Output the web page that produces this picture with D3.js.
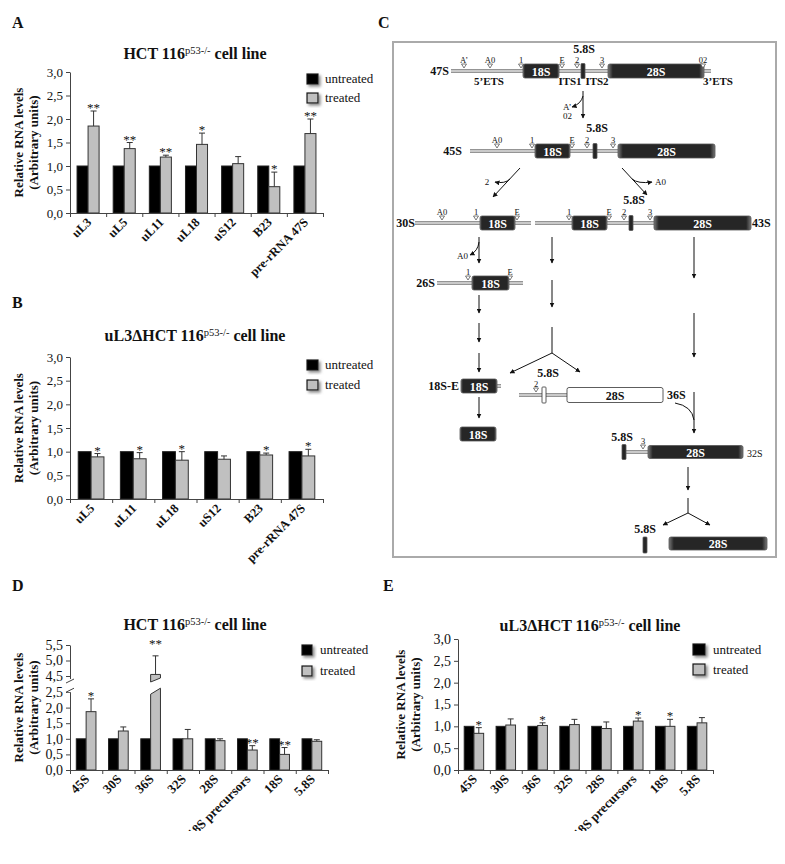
<!DOCTYPE html>
<html>
<head>
<meta charset="utf-8">
<script src="https://cdn.jsdelivr.net/npm/d3@7"></script>
<style>
  body { margin: 0; background: #fff; }
  text { font-family: "Liberation Serif", "Times New Roman", serif; fill: #111; }
</style>
</head>
<body>
<script>
// ---- data ----
var catsA = ["uL3", "uL5", "uL11", "uL18", "uS12", "B23", "pre-rRNA 47S"];
var untrA = [1, 1, 1, 1, 1, 1, 1];
var treatA = [1.85, 1.37, 1.19, 1.46, 1.05, 0.56, 1.69];
var errA = [0.32, 0.13, 0.04, 0.24, 0.15, 0.31, 0.31];
var sigA = ["**", "**", "**", "*", "", "*", "**"];

var catsB = ["uL5", "uL11", "uL18", "uS12", "B23", "pre-rRNA 47S"];
var untrB = [1, 1, 1, 1, 1, 1];
var treatB = [0.89, 0.85, 0.82, 0.84, 0.93, 0.91];
var errB = [0.07, 0.13, 0.18, 0.07, 0.04, 0.14];
var sigB = ["*", "*", "*", "", "*", "*"];

var catsDE = ["45S", "30S", "36S", "32S", "28S", "18S precursors", "18S", "5.8S"];
var untrD = [1, 1, 1, 1, 1, 1, 1, 1];
var treatD = [1.87, 1.25, 4.55, 1.0, 0.94, 0.64, 0.5, 0.92];
var errD = [0.41, 0.13, 0.6, 0.3, 0.06, 0.14, 0.22, 0.05];
var sigD = ["*", "", "**", "", "", "**", "**", ""];

var untrE = [1, 1, 1, 1, 1, 1, 1, 1];
var treatE = [0.84, 1.03, 1.02, 1.04, 0.95, 1.12, 1.0, 1.08];
var errE = [0.13, 0.14, 0.06, 0.12, 0.15, 0.07, 0.16, 0.12];
var sigE = ["*", "", "*", "", "", "*", "*", ""];

var ticks3 = [0, 0.5, 1, 1.5, 2, 2.5, 3];
var ticksD = [0, 0.5, 1, 1.5, 2, 2.5, 4.5, 5, 5.5];
var seriesNames = ["untreated", "treated"];

var fmt = function(v) { return d3.format(".1f")(v).replace(".", ","); };

var svg = d3.select("body").append("svg")
  .attr("width", 785)
  .attr("height", 864);

var defs = svg.append("defs");
var sg = defs.append("linearGradient").attr("id", "strand")
  .attr("x1", 0).attr("y1", 0).attr("x2", 0).attr("y2", 1);
[["0%", "#7a7a7a"], ["50%", "#e4e4e4"], ["100%", "#7a7a7a"]].forEach(function(s) {
  sg.append("stop").attr("offset", s[0]).attr("stop-color", s[1]);
});
var bg = defs.append("linearGradient").attr("id", "block")
  .attr("x1", 0).attr("y1", 0).attr("x2", 1).attr("y2", 0);
[["0%", "#777"], ["5%", "#262626"], ["95%", "#262626"], ["100%", "#777"]].forEach(function(s) {
  bg.append("stop").attr("offset", s[0]).attr("stop-color", s[1]);
});
defs.append("marker").attr("id", "ah")
  .attr("viewBox", "0 0 10 10").attr("refX", 9).attr("refY", 5)
  .attr("markerWidth", 5).attr("markerHeight", 5).attr("orient", "auto")
  .append("path").attr("d", "M0,0L10,5L0,10z").attr("fill", "#111");
defs.append("filter").attr("id", "shadow")
  .attr("x", "-50%").attr("y", "-50%").attr("width", "200%").attr("height", "200%")
  .append("feDropShadow").attr("dx", 2).attr("dy", 2).attr("stdDeviation", 1.5)
  .attr("flood-color", "#888");
defs.append("clipPath").attr("id", "clipLow")
  .append("rect").attr("x", 0).attr("y", 0).attr("width", 785).attr("height", 831);

// panel letters
[["A", 12, 28], ["C", 378, 28], ["B", 12, 308], ["D", 12, 591], ["E", 383, 591]].forEach(function(l) {
  svg.append("text").attr("x", l[1]).attr("y", l[2])
    .attr("font-size", 16).attr("font-weight", "bold").text(l[0]);
});

function title(cx, y, pre) {
  var t = svg.append("text").attr("x", cx).attr("y", y)
    .attr("text-anchor", "middle").attr("font-size", 16).attr("font-weight", "bold");
  t.append("tspan").text(pre + "HCT 116");
  t.append("tspan").attr("font-size", 10.5).attr("font-weight", "normal").attr("dy", -5).text("p53-/-");
  t.append("tspan").attr("dy", 5).text(" cell line");
}

function legend(x, y1, y2, tx, w, h) {
  var g = svg.append("g");
  [y1, y2].forEach(function(yy, i) {
    g.append("rect").attr("x", x).attr("y", yy).attr("width", w).attr("height", h)
      .attr("fill", i === 0 ? "#000" : "#c0c0c0")
      .attr("stroke", "#111").attr("stroke-width", 1.2)
      .attr("filter", "url(#shadow)");
    g.append("text").attr("x", tx).attr("y", yy + h - 1)
      .attr("font-size", 13).text(seriesNames[i]);
  });
}

function barPanel(p) {
  var n = p.cats.length;
  var g = svg.append("g");
  var y = p.y;
  var edge = d3.scaleLinear().domain([0, n]).range([p.x0, p.x1]);
  var x = d3.scaleBand().domain(p.cats).range([p.x0, p.x1])
    .paddingInner(0.39).paddingOuter(0.195);
  var xs = d3.scaleBand().domain(seriesNames).range([0, x.bandwidth()]);

  var rows = p.cats.map(function(c, i) {
    return { cat: c, u: p.untr[i], t: p.treat[i], e: p.err[i], s: p.sig[i] };
  });

  // bars
  g.selectAll(".bu").data(rows).join("rect")
    .attr("x", function(d) { return x(d.cat) + xs("untreated"); })
    .attr("y", function(d) { return y(d.u); })
    .attr("width", xs.bandwidth())
    .attr("height", function(d) { return y(0) - y(d.u); })
    .attr("fill", "#000").attr("stroke", "#222").attr("stroke-width", 1);

  rows.forEach(function(d) {
    var xl = x(d.cat) + xs("treated"), xr = xl + xs.bandwidth();
    var broken = p.brk && d.t > p.brk[1];
    if (broken) {
      var yb = y(p.brk[0]), ya = y(p.brk[1]);
      g.append("path")
        .attr("d", `M${xl},${y(0)}L${xr},${y(0)}L${xr},${yb - 3}L${xl},${yb + 3}Z`)
        .attr("fill", "#c0c0c0").attr("stroke", "#333");
      g.append("path")
        .attr("d", `M${xl},${ya + 2}L${xr},${ya - 2}L${xr},${y(d.t)}L${xl},${y(d.t)}Z`)
        .attr("fill", "#c0c0c0").attr("stroke", "#333");
    } else {
      g.append("rect").attr("x", xl).attr("y", y(d.t))
        .attr("width", xs.bandwidth()).attr("height", y(0) - y(d.t))
        .attr("fill", "#c0c0c0").attr("stroke", "#333").attr("stroke-width", 1);
    }
    var cx = (xl + xr) / 2, top = y(d.t + d.e);
    g.append("line").attr("x1", cx).attr("x2", cx).attr("y1", y(d.t)).attr("y2", top)
      .attr("stroke", "#333");
    g.append("line").attr("x1", cx - 3).attr("x2", cx + 3).attr("y1", top).attr("y2", top)
      .attr("stroke", "#333");
    if (d.s) {
      g.append("text").attr("x", cx).attr("y", top + (broken ? -8 : 1))
        .attr("text-anchor", "middle").attr("font-size", 13).text(d.s);
    }
  });

  // axes
  var ya = g.append("g").attr("transform", `translate(${p.x0},0)`)
    .call(d3.axisLeft(y).tickValues(p.ticks).tickSize(4).tickSizeOuter(0).tickFormat(fmt));
  ya.selectAll("text").attr("font-size", p.tickFont).attr("font-family", null).attr("fill", "#111");
  ya.selectAll("path,line").attr("stroke", "#444");

  var xa = g.append("g").attr("transform", `translate(0,${y(0)})`)
    .call(d3.axisBottom(edge).tickValues(d3.range(n + 1)).tickSize(4).tickSizeOuter(0).tickFormat(""));
  xa.selectAll("path,line").attr("stroke", "#444");

  if (p.brk) {
    g.append("rect").attr("x", p.x0 - 3).attr("y", y(p.brk[1]) - 1).attr("width", 6)
      .attr("height", y(p.brk[0]) - y(p.brk[1]) + 2).attr("fill", "#fff");
    [y(p.brk[1]) + 1, y(p.brk[0]) - 1].forEach(function(yy) {
      g.append("line").attr("x1", p.x0 - 4).attr("x2", p.x0 + 4)
        .attr("y1", yy + 2).attr("y2", yy - 2).attr("stroke", "#444");
    });
  }

  // category labels
  g.append("g").attr("clip-path", "url(#clipLow)")
    .selectAll("text").data(rows).join("text")
    .attr("transform", function(d) {
      return `translate(${x(d.cat) + x.bandwidth() / 2 + 4},${y(0) + 10}) rotate(-45)`;
    })
    .attr("text-anchor", "end").attr("font-size", p.labFont).attr("font-weight", "bold")
    .text(function(d) { return d.cat; });

  // y title
  var ym = (y.range()[0] + y.range()[y.range().length - 1]) / 2;
  ["Relative RNA levels", "(Arbitrary units)"].forEach(function(s, i) {
    g.append("text")
      .attr("transform", `translate(${p.yt + i * 15},${ym}) rotate(-90)`)
      .attr("text-anchor", "middle").attr("font-size", 13).attr("font-weight", "bold")
      .text(s);
  });
}

// A
title(195, 59, "");
barPanel({ cats: catsA, untr: untrA, treat: treatA, err: errA, sig: sigA,
  x0: 70, x1: 323, y: d3.scaleLinear().domain([0, 3]).range([213, 72]),
  ticks: ticks3, tickFont: 13, labFont: 12.5, yt: 23 });
legend(307, 74, 93, 325, 11, 10);

// B
title(195, 341, "uL3\u0394");
barPanel({ cats: catsB, untr: untrB, treat: treatB, err: errB, sig: sigB,
  x0: 70, x1: 323, y: d3.scaleLinear().domain([0, 3]).range([499, 357]),
  ticks: ticks3, tickFont: 13, labFont: 12.5, yt: 23 });
legend(307, 360, 380, 325, 11, 10);

// D
title(195, 630, "");
barPanel({ cats: catsDE, untr: untrD, treat: treatD, err: errD, sig: sigD,
  x0: 70, x1: 328, y: d3.scaleLinear().domain([0, 2.5, 4.5, 5.5]).range([770, 692, 676, 645]),
  ticks: ticksD, tickFont: 14, labFont: 13, yt: 23, brk: [2.6, 4.0] });
legend(302, 645, 666, 320, 10, 10);

// E
title(590, 631, "uL3\u0394");
barPanel({ cats: catsDE, untr: untrE, treat: treatE, err: errE, sig: sigE,
  x0: 458, x1: 713, y: d3.scaleLinear().domain([0, 3]).range([770, 639]),
  ticks: ticks3, tickFont: 14, labFont: 13, yt: 405 });
legend(693, 644, 664, 713, 12, 11);

// ---- C: pre-rRNA processing scheme ----
var dg = svg.append("g");
dg.append("rect").attr("x", 393).attr("y", 42).attr("width", 383).attr("height", 515)
  .attr("fill", "none").attr("stroke", "#aaa").attr("stroke-width", 2);

function strand(x1, x2, yc) {
  dg.append("rect").attr("x", x1).attr("y", yc - 2).attr("width", x2 - x1).attr("height", 4)
    .attr("fill", "url(#strand)");
}
function block(x1, x2, yc, h, label, open) {
  dg.append("rect").attr("x", x1).attr("y", yc - h / 2).attr("width", x2 - x1).attr("height", h)
    .attr("rx", Math.min(2, (x2 - x1) / 5)).attr("fill", open ? "#fff" : "url(#block)")
    .attr("stroke", open ? "#333" : "#555").attr("stroke-width", 0.8);
  if (label) {
    dg.append("text").attr("x", (x1 + x2) / 2).attr("y", yc + 4.5)
      .attr("text-anchor", "middle").attr("font-size", 12).attr("font-weight", "bold")
      .style("fill", open ? "#111" : "#fff").text(label);
  }
}
function site(x, yc, label) {
  dg.append("path").attr("d", `M${x - 2.5},${yc - 7}L${x + 2.5},${yc - 7}L${x},${yc - 3}Z`)
    .attr("fill", "#fff").attr("stroke", "#444").attr("stroke-width", 0.7);
  dg.append("text").attr("x", x).attr("y", yc - 8.5).attr("text-anchor", "middle")
    .attr("font-size", 8.5).text(label);
}
function label(x, y, s, anchor, size, weight) {
  dg.append("text").attr("x", x).attr("y", y).attr("text-anchor", anchor || "middle")
    .attr("font-size", size || 12).attr("font-weight", weight || "bold").text(s);
}
function arrow(x1, y1, x2, y2, head) {
  var l = dg.append("line").attr("x1", x1).attr("y1", y1).attr("x2", x2).attr("y2", y2)
    .attr("stroke", "#111").attr("stroke-width", 1);
  if (head !== false) l.attr("marker-end", "url(#ah)");
}
function curve(d, head) {
  var c = dg.append("path").attr("d", d).attr("fill", "none")
    .attr("stroke", "#111").attr("stroke-width", 1);
  if (head !== false) c.attr("marker-end", "url(#ah)");
}

// 47S
strand(451, 711, 71);
block(523, 559, 71, 14, "18S");
block(581, 585, 71, 15);
block(608, 704, 71, 14, "28S");
site(464, 71, "A\u2019"); site(490, 71, "A0"); site(521, 71, "1"); site(562, 71, "E");
site(577, 71, "2"); site(602, 71, "3"); site(703, 71, "02");
label(449, 75, "47S", "end");
label(584, 53, "5.8S");
label(489, 85, "5\u2019ETS", "middle", 11);
label(570, 85, "ITS1", "middle", 11);
label(597, 85, "ITS2", "middle", 11);
label(718, 85, "3\u2019ETS", "middle", 11);
arrow(583, 91, 583, 118);
curve("M583,96 Q581,104 572,107");
label(563, 110, "A\u2019", "start", 9, "normal");
label(563, 119, "02", "start", 9, "normal");

// 45S
strand(470, 618, 151);
block(535, 570, 151, 14, "18S");
block(593, 597, 151, 15);
block(618, 715, 151, 14, "28S");
site(497, 151, "A0"); site(532, 151, "1"); site(572, 151, "E"); site(587, 151, "2"); site(613, 151, "3");
label(462, 155, "45S", "end");
label(597, 132, "5.8S");
arrow(520, 168, 493, 197);
curve("M510,179 Q505,184 495,182");
label(487, 185, "2", "middle", 9, "normal");
arrow(622, 168, 647, 195);
curve("M632,179 Q638,184 652,182");
label(655, 185, "A0", "start", 9, "normal");

// 30S and 43S
strand(415, 531, 223);
block(480, 515, 223, 14, "18S");
site(442, 223, "A0"); site(476, 223, "1"); site(517, 223, "E");
label(415, 227, "30S", "end");
strand(535, 654, 223);
block(572, 607, 223, 14, "18S");
block(629, 633, 223, 15);
block(654, 751, 223, 14, "28S");
site(569, 223, "1"); site(609, 223, "E"); site(624, 223, "2"); site(650, 223, "3");
label(752, 227, "43S", "start");
label(634, 204, "5.8S");

arrow(479, 237, 479, 263);
curve("M479,242 Q478,251 470,255");
label(468, 259, "A0", "end", 9, "normal");
arrow(552, 237, 552, 263);
arrow(552, 280, 552, 307);
arrow(552, 327, 552, 353, false);
arrow(552, 353, 510, 373);
arrow(552, 353, 580, 372);
arrow(694, 237, 694, 278);
arrow(694, 313, 694, 357);
arrow(694, 392, 694, 433);
curve("M675,403 Q692,406 694,420", false);

// 26S
strand(437, 523, 283);
block(472, 509, 283, 14, "18S");
site(468, 283, "1"); site(510, 283, "E");
label(435, 287, "26S", "end");
arrow(479, 295, 479, 313);
arrow(479, 323, 479, 342);
arrow(479, 353, 479, 372);

// 18S-E and 18S
strand(496, 501, 386);
block(461, 497, 386, 14, "18S");
label(459, 390, "18S-E", "end");
arrow(479, 397, 479, 418);
block(460, 496, 434, 14, "18S");

// 36S
strand(519, 567, 395);
block(542, 546, 395, 16, null, true);
block(567, 663, 395, 15, "28S", true);
site(536, 395, "2");
label(548, 377, "5.8S");
label(667, 399, "36S", "start");

// 32S
strand(626, 648, 452);
block(622, 626, 452, 15);
block(648, 743, 452, 13, "28S");
site(643, 452, "3");
label(622, 441, "5.8S");
label(747, 457, "32S", "start", 10, "normal");

// mature 5.8S + 28S
arrow(688, 467, 688, 490);
arrow(688, 498, 688, 513, false);
arrow(688, 513, 663, 525);
arrow(688, 513, 710, 525);
label(645, 533, "5.8S");
block(643, 647, 545, 16);
block(669, 767, 543.5, 13, "28S");
</script>
</body>
</html>
